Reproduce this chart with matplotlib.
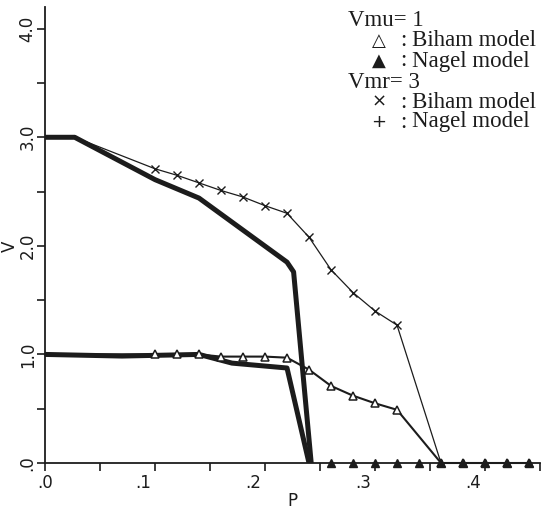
import matplotlib
matplotlib.use("Agg")
import matplotlib.pyplot as plt
import matplotlib.transforms as mtransforms
import numpy as np

# Vmr = 3, Biham model (x, thin line)
p_vmr3_biham = [0.0, 0.027, 0.10, 0.12, 0.14, 0.16, 0.18, 0.20, 0.22, 0.24, 0.26, 0.28, 0.30, 0.32, 0.36]
v_vmr3_biham = [3.0, 3.0, 2.71, 2.65, 2.58, 2.51, 2.45, 2.37, 2.30, 2.08, 1.78, 1.57, 1.40, 1.27, 0.0]

# Vmr = 3, Nagel model (+, thick line)
p_vmr3_nagel = [0.0, 0.027, 0.10, 0.14, 0.22, 0.226, 0.242]
v_vmr3_nagel = [3.0, 3.0, 2.61, 2.44, 1.85, 1.76, 0.0]

# Vmu = 1, Biham model (open triangles)
p_vmu1_biham = [0.0, 0.10, 0.12, 0.14, 0.16, 0.18, 0.20, 0.22, 0.24, 0.26, 0.28, 0.30, 0.32,
                0.36, 0.38, 0.40, 0.42, 0.44]
v_vmu1_biham = [1.0, 1.0, 1.0, 1.0, 0.98, 0.98, 0.98, 0.97, 0.86, 0.71, 0.62, 0.55, 0.49,
                0.0, 0.0, 0.0, 0.0, 0.0]

# Vmu = 1, Nagel model (filled triangles, thick line)
p_vmu1_nagel = [0.0, 0.07, 0.14, 0.17, 0.22, 0.24,
                0.26, 0.28, 0.30, 0.32, 0.34, 0.36, 0.38, 0.40, 0.42, 0.44]
v_vmu1_nagel = [1.0, 0.985, 1.0, 0.92, 0.875, 0.0,
                0.0, 0.0, 0.0, 0.0, 0.0, 0.0, 0.0, 0.0, 0.0, 0.0]

x_ticklabels = ['.0', '', '.1', '', '.2', '', '.3', '', '.4', '']
y_ticklabels = ['.0', '', '1.0', '', '2.0', '', '3.0', '', '4.0']

ink = '#1c1c1c'
W, H = 550, 511

fig = plt.figure(figsize=(W / 100, H / 100), dpi=100)
ax = fig.add_axes([45 / W, 1 - 463 / H, 495 / W, 456 / H])

# lines
ax.plot(p_vmr3_biham, v_vmr3_biham, color=ink, lw=0.9, marker='x', ms=6, mew=1.0,
        markevery=list(range(2, 14)))
ax.plot(p_vmr3_nagel, v_vmr3_nagel, color=ink, lw=3.6, solid_joinstyle='round')
ax.plot(p_vmu1_biham, v_vmu1_biham, color=ink, lw=1.5, marker='^', ms=6, mew=1.1,
        mfc='white', markevery=list(range(1, len(p_vmu1_biham))), clip_on=False, zorder=3)
ax.plot(p_vmu1_nagel[:6], v_vmu1_nagel[:6], color=ink, lw=3.6, solid_joinstyle='round')
ax.plot(p_vmu1_nagel[6:], v_vmu1_nagel[6:], ls='none', color=ink, marker='^', ms=6,
        clip_on=False, zorder=4)

ax.set_xlim(0, 0.45)
ax.set_ylim(0, 4.2)

for s in ['top', 'right']:
    ax.spines[s].set_visible(False)
for s in ['left', 'bottom']:
    ax.spines[s].set_linewidth(1.3)
    ax.spines[s].set_color(ink)

ax.set_xticks(np.arange(0, 0.451, 0.05))
ax.set_xticklabels(x_ticklabels)
ax.set_yticks(np.arange(0, 4.01, 0.5))
ax.set_yticklabels(y_ticklabels, rotation=90, va='center')
ax.tick_params(direction='out', length=6, width=1.2, colors=ink, labelsize=12)
ax.tick_params(axis='x', pad=2)
ax.tick_params(axis='y', pad=0)

# plotter labels sit a bit left of their ticks
for i, lab in enumerate(ax.get_xticklabels()):
    if i > 0:
        lab.set_transform(lab.get_transform() +
                          mtransforms.ScaledTranslation(-12 / 100, 0, fig.dpi_scale_trans))

ax.set_xlabel('P', fontsize=12, color=ink, labelpad=0)
ax.set_ylabel('V', fontsize=12, color=ink)
ax.yaxis.set_label_coords(-0.053, 2.0 / 4.2)


def px(x, y):
    return x / W, 1 - y / H


serif = ['Liberation Serif', 'DejaVu Serif']
rows = [
    (21, None, 'Vmu= 1'),
    (41, '\u25b3', 'Biham model'),
    (61, '\u25b2', 'Nagel model'),
    (82, None, 'Vmr= 3'),
    (102, '\u00d7', 'Biham model'),
    (122, '+', 'Nagel model'),
]
for y, sym, label in rows:
    if sym is None:
        fig.text(*px(348, y), label, family=serif, fontsize=16.5, color=ink,
                 ha='left', va='center')
    else:
        fig.text(*px(379, y), sym, family=['DejaVu Sans'], fontsize=13, color=ink,
                 ha='center', va='center')
        fig.text(*px(403, y), ':', family=serif, fontsize=16.5, color=ink,
                 ha='center', va='center')
        fig.text(*px(412, y), label, family=serif, fontsize=16.5, color=ink,
                 ha='left', va='center')

fig.savefig('out.png', dpi=100)
